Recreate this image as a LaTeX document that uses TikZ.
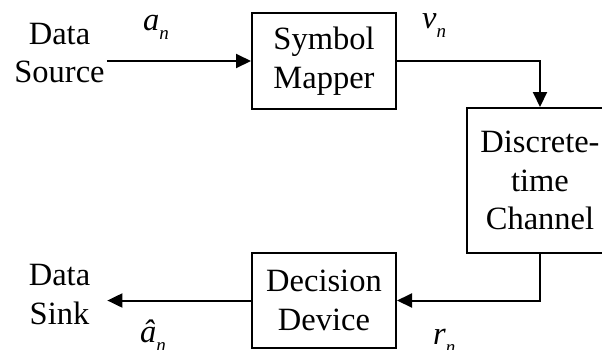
\documentclass[tikz,border=0pt]{standalone}
\usepackage{fontspec}
\setmainfont{Liberation Serif}
\usetikzlibrary{arrows.meta}
\newcommand\varsub[2]{\textit{#1}\raisebox{-9pt}{\fontsize{19}{19}\selectfont\textit{#2}}}
\begin{document}
\begin{tikzpicture}[x=1pt,y=-1pt,
  every node/.style={font=\fontsize{32.5}{38.5}\selectfont, inner sep=0pt},
  blk/.style={draw, line width=2pt, align=center},
  txt/.style={align=center},
  lab/.style={anchor=base west},
  arr/.style={line width=2pt, -{Triangle[length=15pt,width=14pt]}}]
\useasboundingbox (0,0) rectangle (602,349);
\node[blk, minimum width=144pt, minimum height=96pt] (map) at (324,61) {Symbol\\Mapper};
\node[blk, minimum width=146pt, minimum height=145pt] (ch) at (540,180.5) {Discrete-\\time\\Channel};
\node[blk, minimum width=144pt, minimum height=95pt] (dec) at (324,300.5) {Decision\\Device};
\node[txt] (src) at (59.5,53.25) {Data\\Source};
\node[txt] (sink) at (59.5,294.75) {Data\\Sink};
\draw[arr] ([xshift=2pt]src.east |- map.west) -- (map.west);
\draw[arr] (map.east) -| (ch.north);
\draw[arr] (ch.south) |- (dec.east);
\draw[arr] (dec.west) -- ([xshift=17pt]sink.east |- dec.west);
\node[lab] (an) at (143,30) {\varsub{a}{n}};
\node[lab] (vn) at (422,28) {\varsub{v}{n}};
\node[lab] (ahn) at (140,342) {\varsub{\^a}{n}};
\node[lab] (rn) at (433,344) {\varsub{r}{n}};
\end{tikzpicture}
\end{document}
